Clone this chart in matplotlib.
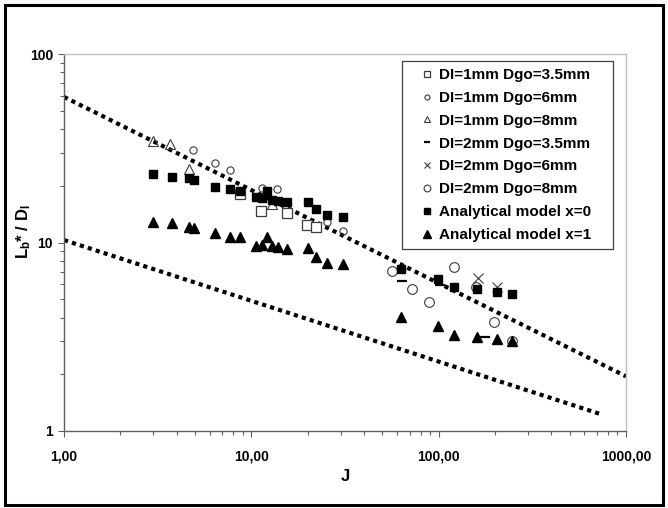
import matplotlib
matplotlib.use("Agg")
import matplotlib.pyplot as plt
from matplotlib.patches import Rectangle
from matplotlib.ticker import FixedLocator, NullFormatter

plt.rcParams['font.family'] = ['Liberation Sans', 'DejaVu Sans']
plt.rcParams['font.weight'] = 'bold'
plt.rcParams['mathtext.fontset'] = 'custom'
plt.rcParams['mathtext.rm'] = 'Liberation Sans:bold'
plt.rcParams['mathtext.it'] = 'Liberation Sans:bold'
plt.rcParams['mathtext.bf'] = 'Liberation Sans:bold'

# experimental series (J, Lb*/Dl)
sq_open_J = [8.7, 11.3, 15.5, 19.8, 22.2]
sq_open_Y = [18.1, 14.7, 14.3, 12.4, 12.1]

circ_small_J = [4.9, 6.4, 7.7, 11.4, 13.7, 25.4, 30.9]
circ_small_Y = [31.0, 26.4, 24.2, 19.5, 19.2, 12.8, 11.5]

tri_open_J = [3.0, 3.7, 4.65, 12.9]
tri_open_Y = [34.5, 33.5, 24.5, 16.0]

dash_J = [63.8, 101.7, 177.0]
dash_Y = [6.25, 5.95, 3.15]

cross_J = [162.0, 205.0]
cross_Y = [6.52, 5.84]

circ_big_J = [56.2, 72.1, 88.9, 121.0, 158.0, 198.0, 247.0]
circ_big_Y = [7.06, 5.67, 4.83, 7.37, 5.81, 3.79, 3.0]

# analytical model
model_J = [2.99, 3.77, 4.65, 4.94, 6.4, 7.7, 8.7, 10.6, 11.4, 12.1, 12.9, 13.9,
           15.5, 20.1, 22.2, 25.4, 30.9, 63.0, 99.3, 121.0, 160.0, 205.0, 247.0]
model_x0_Y = [23.1, 22.3, 22.0, 21.5, 19.7, 19.2, 18.8, 17.4, 17.2, 18.8, 16.8, 16.6,
              16.4, 16.4, 15.1, 14.0, 13.6, 7.23, 6.40, 5.81, 5.67, 5.46, 5.33]
model_x1_Y = [12.8, 12.7, 12.1, 11.9, 11.2, 10.7, 10.7, 9.58, 9.70, 10.7, 9.58, 9.47,
              9.24, 9.35, 8.38, 7.79, 7.69, 4.03, 3.61, 3.23, 3.15, 3.08, 3.00]

# dotted trend lines
upper_J = [1.0, 1000.0]
upper_Y = [59.2, 1.95]
lower_J = [1.0, 730.0]
lower_Y = [10.3, 1.23]

x_ticks = [1, 10, 100, 1000]
x_labels = ['1,00', '10,00', '100,00', '1000,00']
y_ticks = [1, 10, 100]
y_labels = ['1', '10', '100']

W, H = 668, 508
fig = plt.figure(figsize=(W / 100, H / 100), dpi=100)
ax = fig.add_axes([64 / W, 1 - 431 / H, 562 / W, 377 / H])
ax.set_xscale('log')
ax.set_yscale('log')

ax.plot(upper_J, upper_Y, color='black', lw=3.0, linestyle=(0, (1, 1)),
        dash_capstyle='butt', zorder=1)
ax.plot(lower_J, lower_Y, color='black', lw=3.0, linestyle=(0, (1, 1)),
        dash_capstyle='butt', zorder=1)

edge = '#3a3a3a'
ax.plot(sq_open_J, sq_open_Y, 's', ms=6.5, mfc='white', mec=edge, mew=0.9,
        ls='none', label='DI=1mm Dgo=3.5mm', zorder=3)
ax.plot(circ_small_J, circ_small_Y, 'o', ms=5.2, mfc='none', mec=edge, mew=0.8,
        ls='none', label='DI=1mm Dgo=6mm', zorder=3)
ax.plot(tri_open_J, tri_open_Y, '^', ms=7, mfc='none', mec=edge, mew=0.8,
        ls='none', label='DI=1mm Dgo=8mm', zorder=3)
ax.plot(dash_J, dash_Y, '_', ms=7, mec='black', mew=1.6,
        ls='none', label='DI=2mm Dgo=3.5mm', zorder=3)
ax.plot(cross_J, cross_Y, 'x', ms=6.5, mec=edge, mew=0.8,
        ls='none', label='DI=2mm Dgo=6mm', zorder=3)
ax.plot(circ_big_J, circ_big_Y, 'o', ms=7, mfc='none', mec=edge, mew=0.8,
        ls='none', label='DI=2mm Dgo=8mm', zorder=3)
ax.plot(model_J, model_x0_Y, 's', ms=6, color='black',
        ls='none', label='Analytical model x=0', zorder=4)
ax.plot(model_J, model_x1_Y, '^', ms=7.5, color='black',
        ls='none', label='Analytical model x=1', zorder=4)

ax.set_xlim(1, 1000)
ax.set_ylim(1, 100)

ax.xaxis.set_major_locator(FixedLocator(x_ticks))
ax.set_xticklabels(x_labels)
ax.yaxis.set_major_locator(FixedLocator(y_ticks))
ax.set_yticklabels(y_labels)
ax.xaxis.set_minor_formatter(NullFormatter())
ax.yaxis.set_minor_formatter(NullFormatter())

axis_col = '#606060'
for side in ['left', 'bottom']:
    ax.spines[side].set_color(axis_col)
    ax.spines[side].set_linewidth(1.0)
for side in ['top', 'right']:
    ax.spines[side].set_color('#c0c0c0')
    ax.spines[side].set_linewidth(1.0)

ax.tick_params(which='major', direction='out', length=4, width=0.8, color=axis_col,
               labelsize=10, pad=9)
ax.tick_params(which='minor', direction='out', length=3, width=0.8, color=axis_col)
ax.tick_params(axis='y', which='major', pad=4)
for lab in ax.get_xticklabels() + ax.get_yticklabels():
    lab.set_fontweight('bold')

ax.set_xlabel('J', fontsize=12, fontweight='bold', labelpad=4)
ax.set_ylabel(r'$\mathregular{L_b}$* / D$_\mathregular{l}$', fontsize=12,
              fontweight='bold')
ax.yaxis.set_label_coords(-0.055, 0.53)

leg = ax.legend(loc='upper left', bbox_to_anchor=(0.6014, 0.981, 0.3754, 0.0),
                mode='expand', borderaxespad=0,
                fancybox=False, framealpha=1, edgecolor='#404040',
                prop={'weight': 'bold', 'size': 11}, markerscale=0.7,
                handlelength=2.4, handletextpad=-0.45, labelspacing=0.58,
                borderpad=0.45)
leg.get_frame().set_linewidth(0.9)

fig.patches.append(Rectangle((5 / W, 3 / H), 658 / W, 500 / H, transform=fig.transFigure,
                             fill=False, edgecolor='black', lw=2.2))

fig.savefig('out.png', dpi=100)
